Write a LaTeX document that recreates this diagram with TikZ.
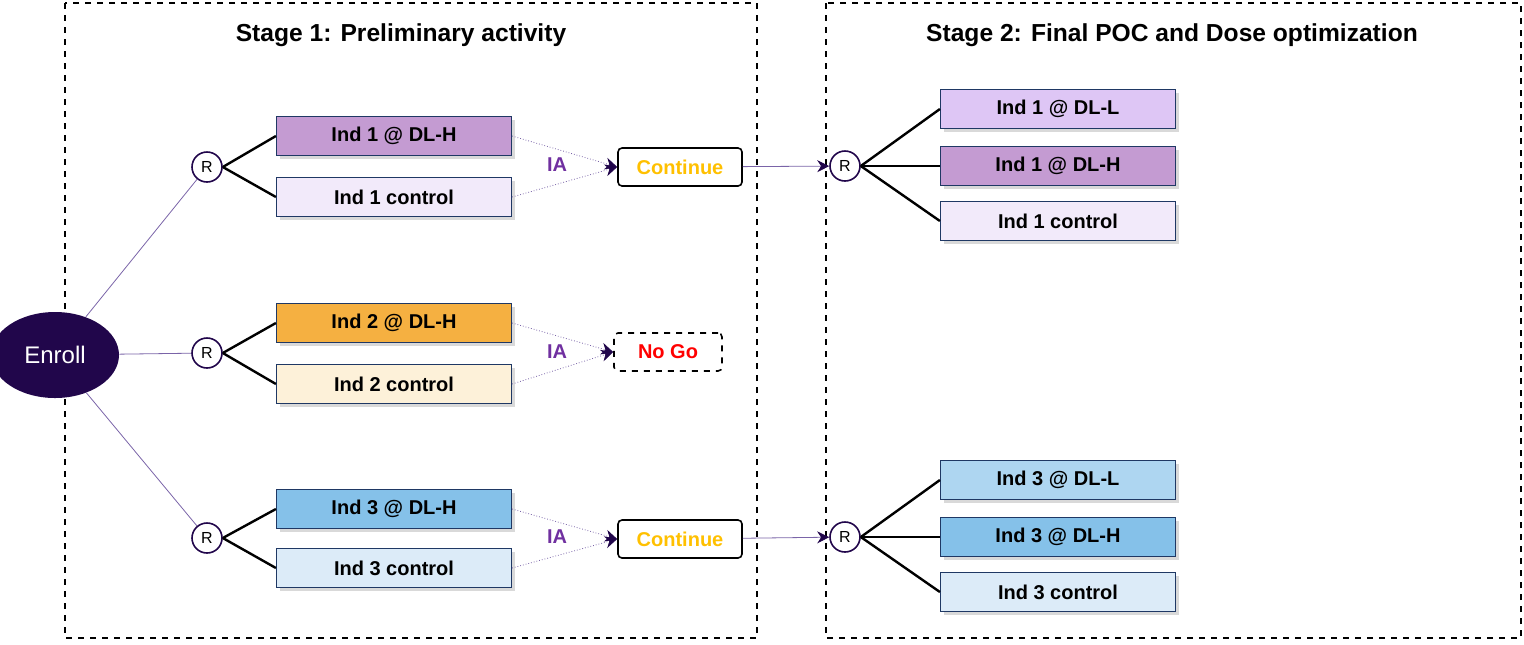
\documentclass[tikz,border=0pt]{standalone}
\usepackage{fontspec}
\setmainfont{Liberation Sans}
\usetikzlibrary{positioning, arrows.meta, shadows, shapes.geometric}
\definecolor{navy}{HTML}{1F3864}
\definecolor{enroll}{HTML}{21064B}
\definecolor{iacol}{HTML}{7030A0}
\definecolor{linkcol}{HTML}{7A64A8}
\definecolor{pdark}{HTML}{C49BD2}
\definecolor{plight}{HTML}{F2EAFA}
\definecolor{pmid}{HTML}{DEC6F5}
\definecolor{odark}{HTML}{F5B041}
\definecolor{olight}{HTML}{FDF1D9}
\definecolor{bdark}{HTML}{85C1E9}
\definecolor{bmid}{HTML}{AED6F1}
\definecolor{blight}{HTML}{DCEBF8}
\definecolor{contcol}{HTML}{FFC000}
\tikzset{%
  x=0.5pt, y=-0.5pt,
  arm/.style={draw=navy, semithick, minimum width=117.5pt, minimum height=19.5pt,
    font=\fontsize{10}{12}\selectfont\bfseries, drop shadow={opacity=0.3, shadow xshift=1.5pt, shadow yshift=-1.5pt}},
  rnode/.style={circle, draw=enroll, thick, fill=white, minimum size=15pt, inner sep=0pt, font=\fontsize{8}{9}\selectfont},
  decision/.style={draw, thick, rounded corners=2pt, minimum width=62pt, minimum height=19pt, font=\fontsize{10}{12}\selectfont\bfseries},
  split/.style={very thick, black},
  feed/.style={linkcol, thin},
  ia/.style={linkcol, thin, densely dotted, -{Stealth[length=6pt, width=6pt, color=enroll]}},
  stage/.style={draw, thick, dashed}
}
\begin{document}
\begin{tikzpicture}
    \useasboundingbox (0,0) rectangle (1524,644);
    % stage frames
    \draw[stage] (65,3) rectangle (757,638);
    \draw[stage] (826,3) rectangle (1521,638);
    \node[font=\fontsize{12.3}{14}\selectfont\bfseries] (t1) at (401,35) {Stage 1: Preliminary activity};
    \node[font=\fontsize{12.3}{14}\selectfont\bfseries] (t2) at (1172,35) {Stage 2: Final POC and Dose optimization};

    \node[ellipse, fill=enroll, text=white, minimum width=64pt, minimum height=43pt, font=\fontsize{12}{14}\selectfont] (enroll) at (55,355) {Enroll};

    \node[rnode] (r1) at (207,167) {R};
    \node[rnode] (r2) at (207,353) {R};
    \node[rnode] (r3) at (207,538) {R};

    \node[arm, fill=pdark] (a1h) at (394,136) {Ind 1 @ DL-H};
    \node[arm, fill=plight] (a1c) at (394,197) {Ind 1 control};
    \node[arm, fill=odark] (a2h) at (394,323) {Ind 2 @ DL-H};
    \node[arm, fill=olight] (a2c) at (394,384) {Ind 2 control};
    \node[arm, fill=bdark] (a3h) at (394,509) {Ind 3 @ DL-H};
    \node[arm, fill=blight] (a3c) at (394,568) {Ind 3 control};

    \node[decision, text=contcol] (c1) at (680,167) {Continue};
    \node[decision, dashed, text=red, minimum width=54pt] (ng) at (668,352) {No Go};
    \node[decision, text=contcol] (c3) at (680,539) {Continue};

    \node[rnode] (s1) at (845,166) {R};
    \node[rnode] (s3) at (845,537) {R};

    \node[arm, fill=pmid] (b1l) at (1058,109) {Ind 1 @ DL-L};
    \node[arm, fill=pdark] (b1h) at (1058,166) {Ind 1 @ DL-H};
    \node[arm, fill=plight] (b1c) at (1058,221) {Ind 1 control};
    \node[arm, fill=bmid] (b3l) at (1058,480) {Ind 3 @ DL-L};
    \node[arm, fill=bdark] (b3h) at (1058,537) {Ind 3 @ DL-H};
    \node[arm, fill=blight] (b3c) at (1058,592) {Ind 3 control};

    \draw[feed] (enroll) -- (r1);
    \draw[feed] (enroll) -- (r2);
    \draw[feed] (enroll) -- (r3);

    \foreach \r/\h/\c in {r1/a1h/a1c, r2/a2h/a2c, r3/a3h/a3c}{
      \draw[split] (\r.east) -- (\h.west);
      \draw[split] (\r.east) -- (\c.west);
    }
    \foreach \h/\c/\d in {a1h/a1c/c1, a2h/a2c/ng, a3h/a3c/c3}{
      \draw[ia] (\h.east) -- (\d.west);
      \draw[ia] (\c.east) -- (\d.west);
    }
    \node[text=iacol, font=\fontsize{10}{12}\selectfont\bfseries] (ia1) at (557,165) {IA};
    \node[text=iacol, font=\fontsize{10}{12}\selectfont\bfseries] (ia2) at (557,352) {IA};
    \node[text=iacol, font=\fontsize{10}{12}\selectfont\bfseries] (ia3) at (557,537) {IA};

    \draw[feed, -{Stealth[length=6pt, width=6pt, color=enroll]}] (c1) -- (s1);
    \draw[feed, -{Stealth[length=6pt, width=6pt, color=enroll]}] (c3) -- (s3);

    \foreach \s/\t in {s1/b1l, s1/b1h, s1/b1c, s3/b3l, s3/b3h, s3/b3c}
      \draw[split] (\s.east) -- (\t.west);
\end{tikzpicture}
\end{document}
